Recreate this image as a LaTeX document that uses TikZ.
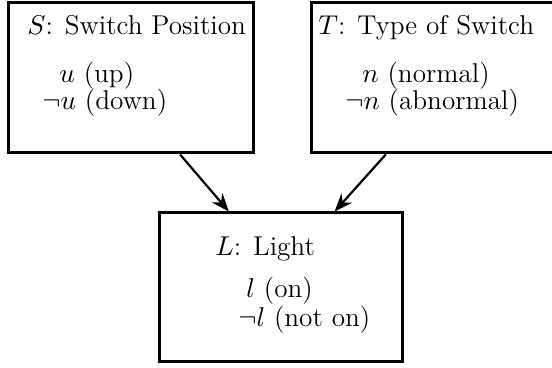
\documentclass[tikz,border=0pt]{standalone}
\usetikzlibrary{arrows.meta, calc}
\DeclareFontShape{OML}{cmm}{m}{it}{<->cmmi10}{}
\DeclareFontShape{OMS}{cmsy}{m}{n}{<->cmsy10}{}

\begin{document}
\begin{tikzpicture}[
  x=0.5pt, y=-0.5pt,
  font=\fontsize{13.6}{16}\selectfont,
  varbox/.style={draw, line width=1.5pt, inner sep=0pt},
  val/.style={anchor=base west, inner sep=0pt},
  >={Stealth[length=9pt, width=7pt]}
]
\useasboundingbox (0,0) rectangle (552,368);
% variables
\node[varbox, minimum width=122.5pt, minimum height=75pt] (S) at (130.5,78) {};
\node[varbox, minimum width=121.5pt, minimum height=75pt] (T) at (432.5,78) {};
\node[varbox, minimum width=121.5pt, minimum height=74.5pt] (L) at (280.5,287.5) {};
% values
\node[val] (Sname) at (27,35) {$S$: Switch Position};
\node[val] (Su) at (59,83) {$u$ (up)};
\node[val] (Snu) at (42,110) {$\neg u$ (down)};
\node[val] (Tname) at (318,35) {$T$: Type of Switch};
\node[val] (Tn) at (362,83) {$n$ (normal)};
\node[val] (Tnn) at (345,110) {$\neg n$ (abnormal)};
\node[val] (Lname) at (215,256) {$L$: Light};
\node[val] (Ll) at (246,298) {$l$ (on)};
\node[val] (Lnl) at (238,327) {$\neg l$ (not on)};
% influences
\draw[->, line width=1.1pt] ($(S.south west)!.7!(S.south east)$) -- ($(L.north west)!.29!(L.north east)$);
\draw[->, line width=1.1pt] ($(T.south west)!.31!(T.south east)$) -- ($(L.north west)!.72!(L.north east)$);
\end{tikzpicture}
\end{document}
